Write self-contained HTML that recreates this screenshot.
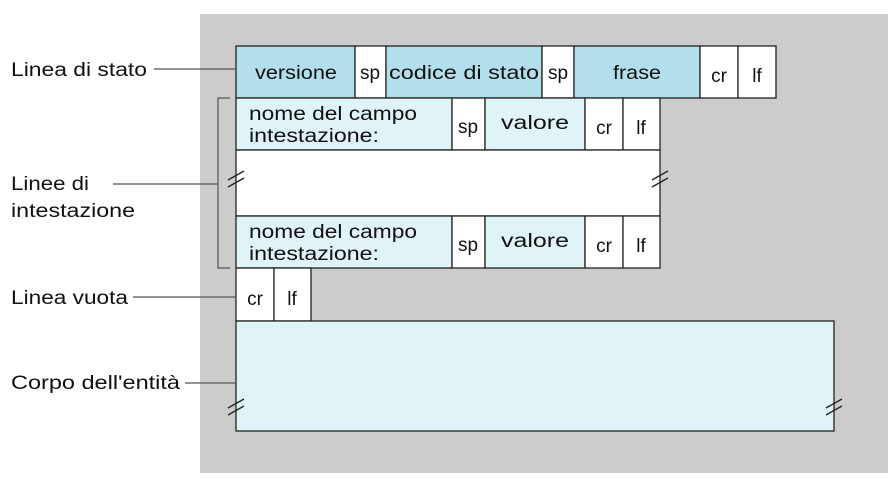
<!DOCTYPE html>
<html><head><meta charset="utf-8"><style>
html,body{margin:0;padding:0;background:#fff;}
svg text{font-family:"Liberation Sans",sans-serif;font-size:19px;fill:#111;}
</style></head><body>
<svg width="888" height="486" xmlns="http://www.w3.org/2000/svg">
<rect x="200" y="14" width="688" height="459" fill="#cccccc"/>
<g stroke="#222" stroke-width="1.3">
<rect x="236" y="46" width="119" height="52" fill="#b2dfeb"/>
<rect x="355" y="46" width="31" height="52" fill="#fff"/>
<rect x="386" y="46" width="156" height="52" fill="#b2dfeb"/>
<rect x="542" y="46" width="32" height="52" fill="#fff"/>
<rect x="574" y="46" width="126" height="52" fill="#b2dfeb"/>
<rect x="700" y="46" width="38" height="52" fill="#fff"/>
<rect x="738" y="46" width="38" height="52" fill="#fff"/>
<rect x="236" y="98" width="216" height="52" fill="#e0f3f7"/>
<rect x="452" y="98" width="33" height="52" fill="#fff"/>
<rect x="485" y="98" width="100" height="52" fill="#e0f3f7"/>
<rect x="585" y="98" width="38" height="52" fill="#fff"/>
<rect x="623" y="98" width="37" height="52" fill="#fff"/>
<rect x="236" y="150" width="424" height="66" fill="#fff"/>
<rect x="236" y="216" width="216" height="52" fill="#e0f3f7"/>
<rect x="452" y="216" width="33" height="52" fill="#fff"/>
<rect x="485" y="216" width="100" height="52" fill="#e0f3f7"/>
<rect x="585" y="216" width="38" height="52" fill="#fff"/>
<rect x="623" y="216" width="37" height="52" fill="#fff"/>
<rect x="236" y="268" width="38" height="53" fill="#fff"/>
<rect x="274" y="268" width="37" height="53" fill="#fff"/>
<rect x="236" y="321" width="598" height="110" fill="#e0f3f7"/>
</g>
<g stroke="#222" stroke-width="1.3">
<line x1="228" y1="180" x2="244" y2="171"/><line x1="228" y1="187" x2="244" y2="178"/>
<line x1="652" y1="180" x2="668" y2="171"/><line x1="652" y1="187" x2="668" y2="178"/>
<line x1="228" y1="408" x2="244" y2="399"/><line x1="228" y1="415" x2="244" y2="406"/>
<line x1="826" y1="408" x2="842" y2="399"/><line x1="826" y1="415" x2="842" y2="406"/>
</g>
<g stroke="#555" stroke-width="1.2" fill="none">
<line x1="154" y1="69" x2="236" y2="69"/>
<polyline points="230,98 218,98 218,268 230,268"/>
<line x1="113" y1="184" x2="218" y2="184"/>
<line x1="133" y1="297" x2="236" y2="297"/>
<line x1="185" y1="383" x2="236" y2="383"/>
</g>
<text x="11" y="76" textLength="136" lengthAdjust="spacingAndGlyphs">Linea di stato</text>
<text x="11" y="190" textLength="78" lengthAdjust="spacingAndGlyphs">Linee di</text>
<text x="11" y="217" textLength="124" lengthAdjust="spacingAndGlyphs">intestazione</text>
<text x="11" y="304" textLength="117" lengthAdjust="spacingAndGlyphs">Linea vuota</text>
<text x="11" y="389" textLength="169" lengthAdjust="spacingAndGlyphs">Corpo dell'entità</text>
<g text-anchor="middle">
<text x="296" y="79" textLength="82" lengthAdjust="spacingAndGlyphs">versione</text>
<text x="370" y="79">sp</text>
<text x="464" y="79" textLength="150" lengthAdjust="spacingAndGlyphs">codice di stato</text>
<text x="558" y="79">sp</text>
<text x="637" y="79" textLength="48" lengthAdjust="spacingAndGlyphs">frase</text>
<text x="719" y="82">cr</text>
<text x="757" y="82">lf</text>
<text x="468" y="133">sp</text>
<text x="535" y="129" textLength="68" lengthAdjust="spacingAndGlyphs">valore</text>
<text x="604" y="134">cr</text>
<text x="641" y="134">lf</text>
<text x="468" y="251">sp</text>
<text x="535" y="247" textLength="68" lengthAdjust="spacingAndGlyphs">valore</text>
<text x="604" y="252">cr</text>
<text x="641" y="252">lf</text>
<text x="255" y="305">cr</text>
<text x="292" y="305">lf</text>
</g>
<text x="249" y="120" textLength="168" lengthAdjust="spacingAndGlyphs">nome del campo</text>
<text x="249" y="142" textLength="130" lengthAdjust="spacingAndGlyphs">intestazione:</text>
<text x="249" y="238" textLength="168" lengthAdjust="spacingAndGlyphs">nome del campo</text>
<text x="249" y="260" textLength="130" lengthAdjust="spacingAndGlyphs">intestazione:</text>
</svg>
</body></html>
